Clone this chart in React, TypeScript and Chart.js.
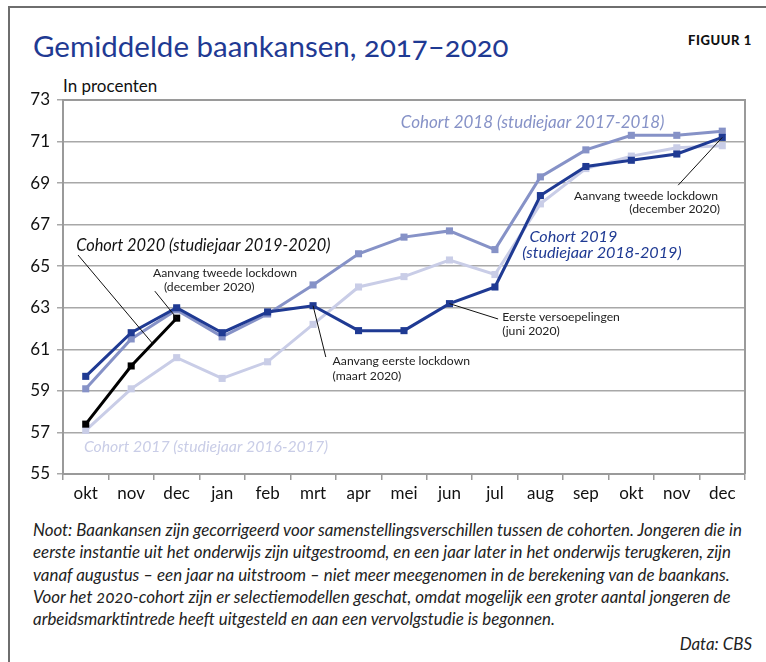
import React, { useEffect, useRef } from 'react';
import { Chart, registerables } from 'chart.js';

Chart.register(...registerables);

// ---------- data ----------
const months = ['okt', 'nov', 'dec', 'jan', 'feb', 'mrt', 'apr', 'mei', 'jun', 'jul', 'aug', 'sep', 'okt', 'nov', 'dec'];
const cohort2017 = [57.1, 59.1, 60.6, 59.6, 60.4, 62.2, 64.0, 64.5, 65.3, 64.6, 68.0, 69.7, 70.3, 70.7, 70.8];
const cohort2018 = [59.1, 61.5, 62.9, 61.6, 62.7, 64.1, 65.6, 66.4, 66.7, 65.8, 69.3, 70.6, 71.3, 71.3, 71.5];
const cohort2019 = [59.7, 61.8, 63.0, 61.8, 62.8, 63.1, 61.9, 61.9, 63.2, 64.0, 68.4, 69.8, 70.1, 70.4, 71.2];
const cohort2020 = [57.4, 60.2, 62.5, null, null, null, null, null, null, null, null, null, null, null, null];
const yTicks = [55, 57, 59, 61, 63, 65, 67, 69, 71, 73];

const C2017 = '#c9cde7';
const C2018 = '#8692c7';
const C2019 = '#1f3a93';
const C2020 = '#000000';

const seriesValues: Record<string, (number | null)[]> = {
  c2017: cohort2017,
  c2018: cohort2018,
  c2019: cohort2019,
  c2020: cohort2020,
};

// text labels placed in data coordinates (category index, value)
const labelTexts = [
  { text: 'Cohort 2018 (studiejaar 2017-2018)', x: 6.93, y: 71.94, color: C2018, font: 'italic 17px Lato', align: 'left' },
  { text: 'Cohort 2020 (studiejaar 2019-2020)', x: -0.21, y: 65.97, color: '#111', font: 'italic 16.4px Lato', align: 'left' },
  { text: 'Cohort 2019', x: 9.76, y: 66.41, color: C2019, font: 'italic 16.2px Lato', align: 'left' },
  { text: '(studiejaar 2018-2019)', x: 9.6, y: 65.64, color: C2019, font: 'italic 16.2px Lato', align: 'left' },
  { text: 'Cohort 2017 (studiejaar 2016-2017)', x: -0.04, y: 56.3, color: C2017, font: 'italic 15.8px Lato', align: 'left' },
  { text: 'Aanvang tweede lockdown', x: 1.48, y: 64.67, color: '#222', font: '12.2px Lato', align: 'left' },
  { text: '(december 2020)', x: 1.72, y: 64.0, color: '#222', font: '12.2px Lato', align: 'left' },
  { text: 'Aanvang eerste lockdown', x: 5.43, y: 60.44, color: '#222', font: '12.2px Lato', align: 'left' },
  { text: '(maart 2020)', x: 5.43, y: 59.72, color: '#222', font: '12.2px Lato', align: 'left' },
  { text: 'Eerste versoepelingen', x: 9.16, y: 62.56, color: '#222', font: '12.2px Lato', align: 'left' },
  { text: '(juni 2020)', x: 9.16, y: 61.88, color: '#222', font: '12.2px Lato', align: 'left' },
  { text: 'Aanvang tweede lockdown', x: 13.91, y: 68.38, color: '#222', font: '12.2px Lato', align: 'right' },
  { text: '(december 2020)', x: 13.95, y: 67.75, color: '#222', font: '12.2px Lato', align: 'right' },
];

// leader lines: from a data-coordinate point to a position along a series
const leaders = [
  { fx: -0.17, fy: 65.54, series: 'c2020', at: 1.47 },
  { fx: 1.52, fy: 63.8, series: 'c2020', at: 2 },
  { fx: 5.28, fy: 60.63, series: 'c2019', at: 5 },
  { fx: 9.07, fy: 62.46, series: 'c2019', at: 8 },
  { fx: 13.03, fy: 68.9, series: 'c2019', at: 14 },
];

const noteLines = [
  'Noot: Baankansen zijn gecorrigeerd voor samenstellingsverschillen tussen de cohorten. Jongeren die in',
  'eerste instantie uit het onderwijs zijn uitgestroomd, en een jaar later in het onderwijs terugkeren, zijn',
  'vanaf augustus – een jaar na uitstroom – niet meer meegenomen in de berekening van de baankans.',
  'Voor het 2020-cohort zijn er selectiemodellen geschat, omdat mogelijk een groter aantal jongeren de',
  'arbeidsmarktintrede heeft uitgesteld en aan een vervolgstudie is begonnen.',
];

const valueAt = (vals: (number | null)[], at: number) => {
  const i0 = Math.floor(at);
  const f = at - i0;
  const a = vals[i0] as number;
  if (f === 0) return a;
  const b = vals[i0 + 1] as number;
  return a + (b - a) * f;
};

const plotFrame = {
  id: 'plotFrame',
  beforeDatasetsDraw(chart: any) {
    const { ctx, chartArea } = chart;
    ctx.save();
    ctx.strokeStyle = '#9a9a9a';
    ctx.lineWidth = 2;
    ctx.beginPath();
    ctx.moveTo(chartArea.left, chartArea.top);
    ctx.lineTo(chartArea.right, chartArea.top);
    ctx.lineTo(chartArea.right, chartArea.bottom);
    ctx.stroke();
    ctx.restore();
  },
};

const annotate = {
  id: 'annotate',
  afterDatasetsDraw(chart: any) {
    const { ctx } = chart;
    const xs = chart.scales.x;
    const ys = chart.scales.y;
    ctx.save();
    ctx.strokeStyle = '#111';
    ctx.lineWidth = 1;
    leaders.forEach((l) => {
      const v = valueAt(seriesValues[l.series], l.at);
      ctx.beginPath();
      ctx.moveTo(xs.getPixelForValue(l.fx), ys.getPixelForValue(l.fy));
      ctx.lineTo(xs.getPixelForValue(l.at), ys.getPixelForValue(v));
      ctx.stroke();
    });
    ctx.textBaseline = 'middle';
    labelTexts.forEach((t) => {
      ctx.font = t.font;
      ctx.fillStyle = t.color;
      ctx.textAlign = t.align;
      ctx.fillText(t.text, xs.getPixelForValue(t.x), ys.getPixelForValue(t.y));
    });
    ctx.restore();
  },
};

const mkSet = (label: string, data: (number | null)[], color: string) => ({
  label,
  data,
  borderColor: color,
  backgroundColor: color,
  pointBackgroundColor: color,
  pointBorderColor: color,
  borderWidth: 3,
  pointStyle: 'rect',
  pointRadius: 5,
  pointBorderWidth: 0,
  tension: 0,
  spanGaps: false,
});

export default function App() {
  const ref = useRef<HTMLCanvasElement>(null);

  useEffect(() => {
    document.body.style.margin = '0';
    if (!ref.current) return;
    Chart.defaults.font.family = 'Lato';
    const chart = new Chart(ref.current, {
      type: 'line',
      data: {
        labels: months,
        datasets: [
          mkSet('Cohort 2020', cohort2020, C2020),
          mkSet('Cohort 2019', cohort2019, C2019),
          mkSet('Cohort 2018', cohort2018, C2018),
          mkSet('Cohort 2017', cohort2017, C2017),
        ],
      },
      options: {
        responsive: false,
        animation: false,
        devicePixelRatio: 1,
        layout: { padding: { top: 30, right: 21, left: 0, bottom: 0 } },
        plugins: { legend: { display: false }, tooltip: { enabled: false }, title: { display: false } },
        scales: {
          x: {
            offset: true,
            afterFit: (s: any) => { s.height = 36; },
            grid: { display: true, drawOnChartArea: false, drawTicks: true, tickLength: 6, color: '#9a9a9a', lineWidth: 1.5, offset: true },
            border: { display: true, color: '#9a9a9a', width: 2 },
            ticks: { color: '#111', font: { size: 17 }, padding: 3, autoSkip: false, maxRotation: 0 },
          },
          y: {
            min: yTicks[0],
            max: yTicks[yTicks.length - 1],
            afterFit: (s: any) => { s.width = 63; },
            afterBuildTicks: (s: any) => { s.ticks = yTicks.map((v) => ({ value: v })); },
            grid: { color: '#a8a8a8', lineWidth: 1.5, drawTicks: true, tickLength: 6 },
            border: { display: true, color: '#9a9a9a', width: 2 },
            ticks: { color: '#111', font: { size: 17 }, padding: 7 },
          },
        },
      },
      plugins: [plotFrame, annotate],
    });
    return () => chart.destroy();
  }, []);

  return (
    <div style={{ position: 'relative', width: 766, height: 662, overflow: 'hidden', background: '#fff', fontFamily: 'Lato, sans-serif' }}>
      <div style={{ position: 'absolute', left: 8, top: 6, width: 900, height: 900, border: '2px solid #6e6e6e' }} />
      <div style={{ position: 'absolute', left: 33, top: 28, fontSize: 29.5, lineHeight: '36px', color: C2019, whiteSpace: 'nowrap', fontVariantNumeric: 'oldstyle-nums' }}>
        Gemiddelde baankansen, 2017–2020
      </div>
      <div style={{ position: 'absolute', right: 14, top: 32, fontSize: 13, lineHeight: '16px', fontWeight: 900, letterSpacing: 0.6, color: '#111' }}>
        FIGUUR 1
      </div>
      <div style={{ position: 'absolute', left: 63, top: 75, fontSize: 17, lineHeight: '22px', color: '#111', whiteSpace: 'nowrap' }}>
        In procenten
      </div>
      <canvas ref={ref} width={766} height={440} style={{ position: 'absolute', left: 0, top: 70, width: 766, height: 440 }} />
      <div style={{ position: 'absolute', left: 33, top: 519, fontSize: 16.9, lineHeight: '22.3px', fontStyle: 'italic', color: '#222', fontVariantNumeric: 'oldstyle-nums' }}>
        {noteLines.map((l, i) => (
          <div key={i} style={{ whiteSpace: 'nowrap' }}>{l}</div>
        ))}
      </div>
      <div style={{ position: 'absolute', right: 14, top: 633, fontSize: 16.9, lineHeight: '22px', fontStyle: 'italic', color: '#222' }}>
        Data: CBS
      </div>
    </div>
  );
}
